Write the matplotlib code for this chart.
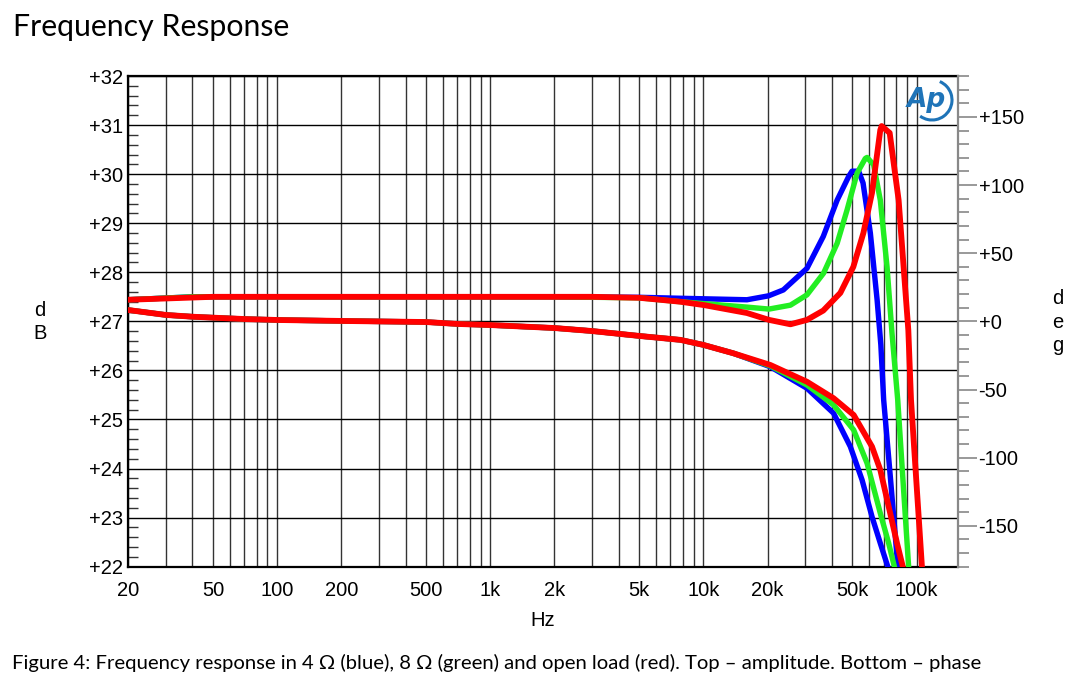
import numpy as np
import matplotlib.pyplot as plt
from matplotlib.ticker import FixedLocator, LogLocator, MultipleLocator, NullFormatter
from matplotlib.patches import Arc

# amplitude (dB)
amp_blue_f = [20, 40, 100, 500, 2000, 5000, 7800, 16000, 20200, 23700, 30600, 36500, 42400, 48000,
              49800, 53500, 56100, 60700, 65300, 68000, 70100, 75400, 81700, 84000]
amp_blue = [27.44, 27.50, 27.50, 27.50, 27.50, 27.49, 27.47, 27.44, 27.52, 27.64, 28.08, 28.73, 29.47, 29.95,
            30.06, 30.06, 29.82, 28.80, 27.44, 26.52, 25.40, 23.81, 22.0, 21.3]

amp_green_f = [20, 40, 100, 500, 2000, 5000, 7800, 16000, 20300, 25600, 30600, 36600, 42400, 47200,
               52600, 57500, 58600, 62900, 67600, 72700, 76700, 81600, 91800, 94500]
amp_green = [27.44, 27.50, 27.50, 27.50, 27.50, 27.48, 27.40, 27.29, 27.25, 27.33, 27.54, 27.98, 28.59, 29.27,
             30.02, 30.32, 30.34, 30.19, 29.47, 28.11, 26.76, 25.40, 22.0, 21.1]

amp_red_f = [20, 50, 100, 500, 2000, 3000, 5000, 7800, 10100, 16000, 20300, 25600, 30600, 36500, 43900,
             50500, 56300, 61800, 67600, 68600, 74800, 82400, 91500, 94200, 106000, 108800]
amp_red = [27.44, 27.50, 27.50, 27.50, 27.50, 27.50, 27.48, 27.40, 27.33, 27.17, 27.03, 26.94, 27.03, 27.22, 27.58,
           28.11, 28.80, 29.62, 30.90, 30.98, 30.84, 29.47, 26.82, 25.40, 22.0, 21.1]

# phase (deg)
ph_low_f = [20, 30, 40, 50, 70, 100, 200, 500, 700, 1000, 2000, 3000, 5000, 7800, 10000, 13800]
ph_low = [8.3, 4.7, 3.4, 2.7, 1.7, 1.0, 0.3, -0.5, -1.9, -2.7, -4.9, -7.1, -10.7, -13.6, -17.3, -23.4]

ph_blue_f = ph_low_f + [20600, 30600, 40800, 48900, 55500, 61800, 67600, 73300, 75000]
ph_blue = ph_low + [-33.3, -49.1, -67.4, -91.9, -116.3, -143.3, -162.8, -180, -192]

ph_green_f = ph_low_f + [20600, 30600, 40800, 50700, 58600, 67600, 74000, 78700, 80500]
ph_green = ph_low + [-32.7, -46.7, -61.3, -79.7, -104.1, -140.8, -162.8, -180, -192]

ph_red_f = ph_low_f + [20600, 30600, 40800, 50700, 61800, 67600, 74000, 81000, 86200, 88000]
ph_red = ph_low + [-32.0, -44.3, -56.4, -68.7, -91.9, -109.0, -135.9, -162.8, -180, -192]

x_major = [20, 50, 100, 200, 500, 1000, 2000, 5000, 10000, 20000, 50000, 100000]
x_labels = ["20", "50", "100", "200", "500", "1k", "2k", "5k", "10k", "20k", "50k", "100k"]
db_ticks = list(range(22, 33))
deg_ticks = [-150, -100, -50, 0, 50, 100, 150]

BLUE, GREEN, RED = "#0000ff", "#22ee22", "#ff0000"
tick_font = "Liberation Sans"
LW = 3.9

fig = plt.figure(figsize=(10.8, 6.86), dpi=100)
ax = fig.add_axes([128.3 / 1080, 1 - 566.7 / 686, (957.7 - 128.3) / 1080, (566.7 - 76) / 686])

ax.set_xscale("log")
ax.set_xlim(20, 156000)
ax.set_ylim(22, 32)

ax.plot(amp_blue_f, amp_blue, color=BLUE, lw=LW, solid_capstyle="round", solid_joinstyle="round", zorder=3)
ax.plot(amp_green_f, amp_green, color=GREEN, lw=LW, solid_capstyle="round", solid_joinstyle="round", zorder=4)
ax.plot(amp_red_f, amp_red, color=RED, lw=LW + 0.3, solid_capstyle="round", solid_joinstyle="round", zorder=5)

# grid
ax.xaxis.set_major_locator(FixedLocator(x_major))
ax.xaxis.set_minor_locator(LogLocator(base=10, subs=range(1, 10)))
ax.xaxis.set_minor_formatter(NullFormatter())
ax.set_xticklabels(x_labels, fontsize=14.5, family=tick_font)
ax.tick_params(axis="x", which="both", length=0, pad=10)
ax.grid(True, axis="x", which="both", color="#333333", lw=1.0)

ax.set_yticks(db_ticks)
ax.set_yticklabels([f"+{v}" for v in db_ticks], fontsize=14.5, family=tick_font)
ax.yaxis.set_minor_locator(MultipleLocator(0.2))
ax.tick_params(axis="y", which="major", length=0, pad=4)
ax.tick_params(axis="y", which="minor", direction="in", length=7, width=1, color="#333333")
ax.grid(True, axis="y", which="major", color="black", lw=1.0)
ax.set_axisbelow(True)

for s in ["left", "bottom", "top"]:
    ax.spines[s].set_color("black")
    ax.spines[s].set_linewidth(1.6)
ax.spines["right"].set_visible(False)

# phase on right axis
ax2 = ax.twinx()
ax2.set_ylim(-180, 180)
ax2.plot(ph_blue_f, ph_blue, color=BLUE, lw=LW, solid_capstyle="round", solid_joinstyle="round", zorder=3)
ax2.plot(ph_green_f, ph_green, color=GREEN, lw=LW, solid_capstyle="round", solid_joinstyle="round", zorder=4)
ax2.plot(ph_red_f, ph_red, color=RED, lw=LW + 0.3, solid_capstyle="round", solid_joinstyle="round", zorder=5)
ax2.set_yticks(deg_ticks)
ax2.set_yticklabels([("+" if v >= 0 else "") + str(v) for v in deg_ticks], fontsize=14.5, family=tick_font)
ax2.yaxis.set_minor_locator(MultipleLocator(10))
ax2.tick_params(axis="y", which="major", direction="out", length=14, width=1.2, color="#888888", pad=1)
ax2.tick_params(axis="y", which="minor", direction="out", length=8, width=1.2, color="#888888")
for s in ["left", "bottom", "top"]:
    ax2.spines[s].set_visible(False)
ax2.spines["right"].set_color("#888888")
ax2.spines["right"].set_linewidth(1.6)

# AP logo
fig.text(926 / 1080, 1 - 100 / 686, "Ap", color="#1f74b8", fontsize=19, fontstyle="italic",
         fontweight="bold", family="DejaVu Sans", ha="center", va="center")
fig.add_artist(Arc((932 / 1080, 1 - 100 / 686), 40 / 1080, 40 / 686, theta1=-115, theta2=75,
                   color="#1f74b8", lw=2.2, transform=fig.transFigure))

# axis labels
fig.text(40 / 1080, 1 - 322 / 686, "d\nB", fontsize=14.5, family=tick_font, ha="center", va="center",
         linespacing=1.25)
fig.text(1058 / 1080, 1 - 322 / 686, "d\ne\ng", fontsize=14.5, family=tick_font, ha="center", va="center",
         linespacing=1.3)
fig.text(543 / 1080, 1 - 620 / 686, "Hz", fontsize=14.5, family=tick_font, ha="center", va="center")

fig.text(13 / 1080, 1 - 27 / 686, "Frequency Response", fontsize=21.8, family="Lato", ha="left", va="center")
fig.text(12 / 1080, 1 - 663 / 686,
         "Figure 4: Frequency response in 4 \u03a9 (blue), 8 \u03a9 (green) and open load (red). "
         "Top \u2013 amplitude. Bottom \u2013 phase",
         fontsize=14.6, family="Lato", ha="left", va="center")

fig.savefig("out.png", dpi=100, facecolor="white")
